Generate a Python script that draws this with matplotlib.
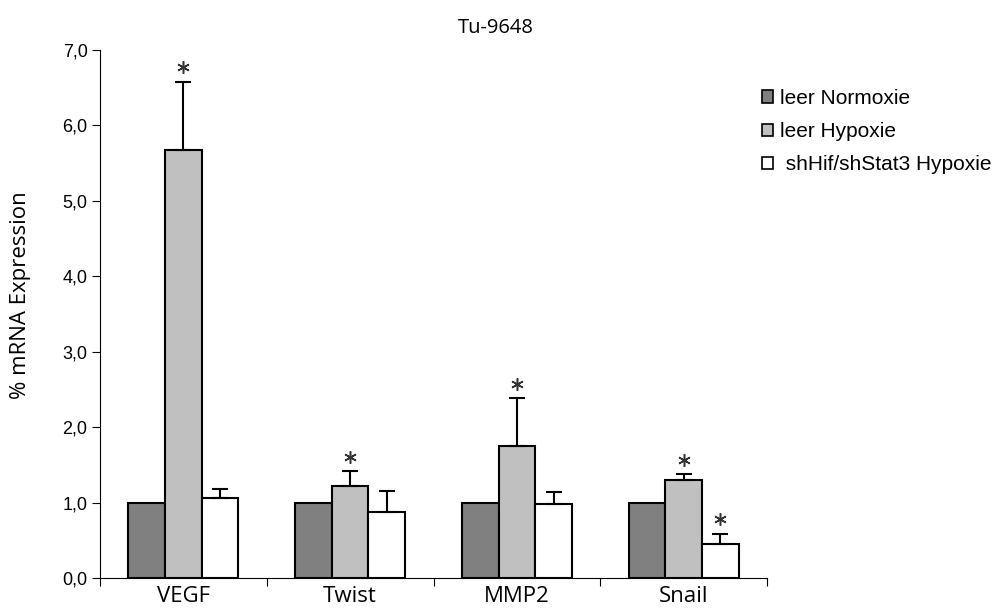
import numpy as np
import matplotlib.pyplot as plt
from matplotlib.patches import Patch

genes = ['VEGF', 'Twist', 'MMP2', 'Snail']
series = ['leer Normoxie', 'leer Hypoxie', ' shHif/shStat3 Hypoxie']
normoxie = [1.0, 1.0, 1.0, 1.0]
hypoxie = [5.68, 1.22, 1.75, 1.30]
hypoxie_err = [0.90, 0.20, 0.63, 0.08]
sh_hypoxie = [1.06, 0.875, 0.98, 0.447]
sh_err = [0.12, 0.285, 0.16, 0.14]
star_hyp = [True, True, True, True]
star_sh = [False, False, False, True]

colors = ['#808080', '#c0c0c0', '#ffffff']

fig = plt.figure(figsize=(10.05, 6.15), dpi=100)
ax = fig.add_axes([100 / 1005, 37 / 615, 667 / 1005, 528 / 615])

x = np.arange(len(genes))
w = 0.22
err_kw = dict(ecolor='black', elinewidth=1.5, capsize=6, capthick=1.5)
ax.bar(x - w, normoxie, w, color=colors[0], edgecolor='black', linewidth=1.5)
ax.bar(x, hypoxie, w, color=colors[1], edgecolor='black', linewidth=1.5,
       yerr=[np.zeros(4), hypoxie_err], error_kw=err_kw)
ax.bar(x + w, sh_hypoxie, w, color=colors[2], edgecolor='black', linewidth=1.5,
       yerr=[np.zeros(4), sh_err], error_kw=err_kw)

# significance stars (six-armed asterisk just above the error bar)
sx, sy = [], []
for i in range(len(genes)):
    if star_hyp[i]:
        sx.append(x[i])
        sy.append(hypoxie[i] + hypoxie_err[i] + 0.19)
    if star_sh[i]:
        sx.append(x[i] + w)
        sy.append(sh_hypoxie[i] + sh_err[i] + 0.19)
ax.plot(sx, sy, linestyle='none', marker=(6, 2, 0), markersize=9,
        markeredgewidth=1.1, color='#333333', clip_on=False)

ax.set_xlim(-0.5, 3.5)
ax.set_ylim(0, 7)
ax.set_yticks(np.arange(0, 7.5, 1.0))
ax.set_yticklabels([f'{v:.1f}'.replace('.', ',') for v in np.arange(0, 7.5, 1.0)],
                   family='Liberation Sans', fontsize=13)
ax.set_xticks(np.arange(-0.5, 4, 1.0))
ax.set_xticklabels([])
ax.set_xticks(x, minor=True)
ax.set_xticklabels(genes, minor=True, fontsize=16, family='Open Sans')
ax.tick_params(axis='x', which='minor', length=0, pad=6)
ax.tick_params(axis='x', which='major', length=6, direction='out')
ax.tick_params(axis='y', length=6, direction='out', pad=3)
for s in ['top', 'right']:
    ax.spines[s].set_visible(False)

ax.set_ylabel('% mRNA Expression', fontsize=16, family='Open Sans')
ax.yaxis.set_label_coords(-0.104, 0.536)
fig.text(496 / 1005, 1 - 28 / 615, 'Tu-9648', ha='center', va='center',
         fontsize=14.5, family='Open Sans')

handles = [Patch(facecolor=c, edgecolor='black', linewidth=1.2) for c in colors]
fig.legend(handles, series, loc='upper left', bbox_to_anchor=(762 / 1005, 1 - 89 / 615),
           frameon=False, prop={'family': 'Liberation Sans', 'size': 15},
           handlelength=0.55, handleheight=0.55, handletextpad=0.3, labelspacing=0.68,
           borderaxespad=0, borderpad=0)

fig.savefig('out.png', dpi=100)
